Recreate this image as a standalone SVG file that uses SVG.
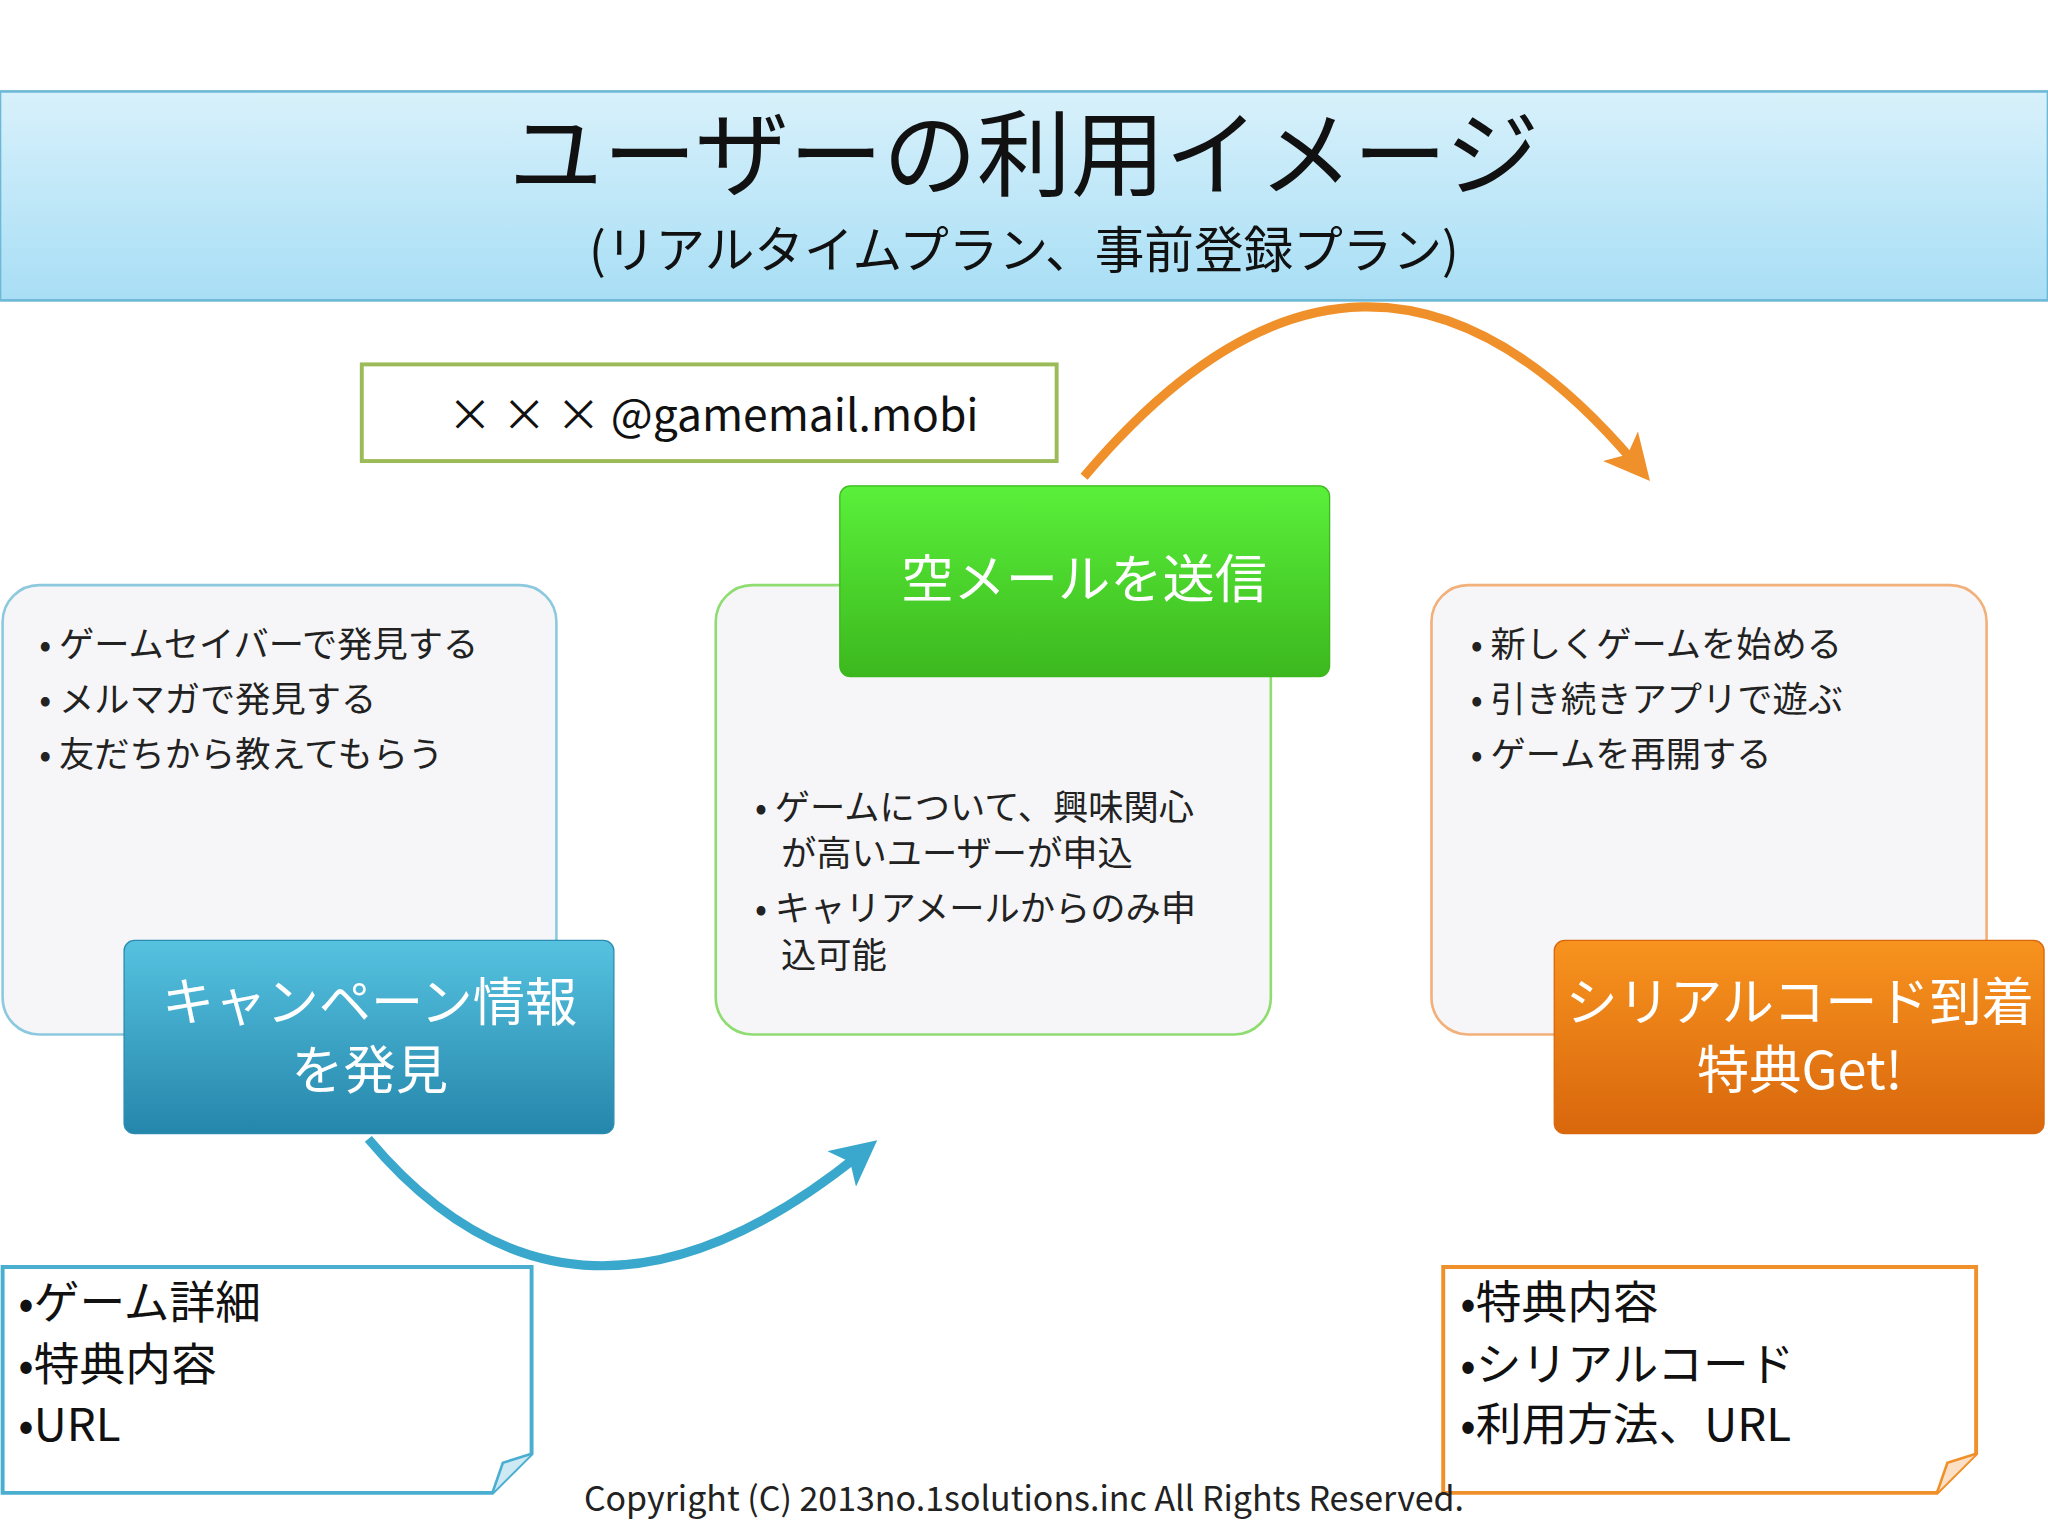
<svg xmlns="http://www.w3.org/2000/svg" width="2048" height="1536" viewBox="0 0 2048 1536">
<defs>
<style>
text{font-family:"Noto Sans CJK JP","Noto Sans",sans-serif;}
.b{font-size:27px;fill:#222}
.w{font-size:40px;fill:#fff;text-anchor:middle}
.n{font-size:35px;fill:#111}
.panel{fill:#f6f6f8;stroke-width:2}
</style>
<linearGradient id="tg" x1="0" y1="0" x2="0" y2="1"><stop offset="0" stop-color="#d8f1fb"/><stop offset="1" stop-color="#a8def5"/></linearGradient>
<linearGradient id="bg" x1="0" y1="0" x2="0" y2="1"><stop offset="0" stop-color="#56c2e0"/><stop offset="1" stop-color="#2586ab"/></linearGradient>
<linearGradient id="gg" x1="0" y1="0" x2="0" y2="1"><stop offset="0" stop-color="#5af03a"/><stop offset="1" stop-color="#3cb81e"/></linearGradient>
<linearGradient id="og" x1="0" y1="0" x2="0" y2="1"><stop offset="0" stop-color="#f7931e"/><stop offset="1" stop-color="#d9670d"/></linearGradient>
<marker id="ao" markerWidth="5" markerHeight="5" refX="2.5" refY="2.5" orient="auto" markerUnits="strokeWidth"><path d="M0,0 L5,2.5 L0,5 L1.2,2.5z" fill="#f0902a"/></marker>
<marker id="ab" markerWidth="5" markerHeight="5" refX="2.5" refY="2.5" orient="auto" markerUnits="strokeWidth"><path d="M0,0 L5,2.5 L0,5 L1.2,2.5z" fill="#3aa8cc"/></marker>
</defs>
<rect width="2048" height="1536" fill="#fff"/>
<g transform="scale(1.3061)">
<g id="title">
<rect x="0" y="70" width="1568" height="160" fill="url(#tg)" stroke="#6cb8d6" stroke-width="2"/>
<text x="784" y="145" font-size="72" text-anchor="middle" fill="#111">ユーザーの利用イメージ</text>
<text x="784" y="205" font-size="38" text-anchor="middle" fill="#111">(リアルタイムプラン、事前登録プラン)</text>
</g>
<g id="connectors" fill="none" stroke-width="7">
<path d="M830,365 Q1045,110 1252,355" stroke="#f0902a" marker-end="url(#ao)"/>
<path d="M282,872 Q440,1060 658,884" stroke="#3aa8cc" marker-end="url(#ab)"/>
</g>
<g id="email">
<rect x="277" y="279" width="532" height="74" fill="#fff" stroke="#9bbb59" stroke-width="3"/>
<text x="546" y="330" font-size="34" text-anchor="middle" fill="#111">× × × @gamemail.mobi</text>
</g>
<g id="leftPanel">
<rect x="2" y="448" width="424" height="344" rx="28" class="panel" stroke="#8cc9df"/>
<text class="b" x="30" y="503">• ゲームセイバーで発見する</text>
<text class="b" x="30" y="545">• メルマガで発見する</text>
<text class="b" x="30" y="587">• 友だちから教えてもらう</text>
</g>
<g id="midPanel">
<rect x="548" y="448" width="425" height="344" rx="28" class="panel" stroke="#8fdc70"/>
<text class="b" x="578" y="628">• ゲームについて、興味関心</text>
<text class="b" x="598" y="663">が高いユーザーが申込</text>
<text class="b" x="578" y="705">• キャリアメールからのみ申</text>
<text class="b" x="598" y="741">込可能</text>
</g>
<g id="rightPanel">
<rect x="1096" y="448" width="425" height="344" rx="28" class="panel" stroke="#f2b07a"/>
<text class="b" x="1126" y="503">• 新しくゲームを始める</text>
<text class="b" x="1126" y="545">• 引き続きアプリで遊ぶ</text>
<text class="b" x="1126" y="587">• ゲームを再開する</text>
</g>
<g id="blueBox">
<rect x="95" y="720" width="375" height="148" rx="8" fill="url(#bg)" stroke="#2a8cb0"/>
<text class="w" x="283" y="782">キャンペーン情報</text>
<text class="w" x="283" y="834">を発見</text>
</g>
<g id="greenBox">
<rect x="643" y="372" width="375" height="146" rx="8" fill="url(#gg)" stroke="#3cb81e"/>
<text class="w" x="830" y="458">空メールを送信</text>
</g>
<g id="orangeBox">
<rect x="1190" y="720" width="375" height="148" rx="8" fill="url(#og)" stroke="#d9670d"/>
<text class="w" x="1378" y="782">シリアルコード到着</text>
<text class="w" x="1378" y="834">特典Get!</text>
</g>
<g id="noteLeft">
<path d="M2,970 H407 V1113 L377,1143 H2 Z" fill="#fff" stroke="#4aaed0" stroke-width="3"/>
<path d="M377,1143 L385,1120 L407,1113" fill="#cde9f3" stroke="#4aaed0" stroke-width="2"/>
<text class="n" x="14" y="1010">•ゲーム詳細</text>
<text class="n" x="14" y="1057">•特典内容</text>
<text class="n" x="14" y="1103">•URL</text>
</g>
<g id="noteRight">
<path d="M1105,970 H1513 V1113 L1483,1143 H1105 Z" fill="#fff" stroke="#f0902a" stroke-width="3"/>
<path d="M1483,1143 L1491,1120 L1513,1113" fill="#fbe0c6" stroke="#f0902a" stroke-width="2"/>
<text class="n" x="1118" y="1010">•特典内容</text>
<text class="n" x="1118" y="1057">•シリアルコード</text>
<text class="n" x="1118" y="1103">•利用方法、URL</text>
</g>
<text x="784" y="1157" font-size="26" text-anchor="middle" fill="#222">Copyright (C) 2013no.1solutions.inc All Rights Reserved.</text>
</g>
</svg>
